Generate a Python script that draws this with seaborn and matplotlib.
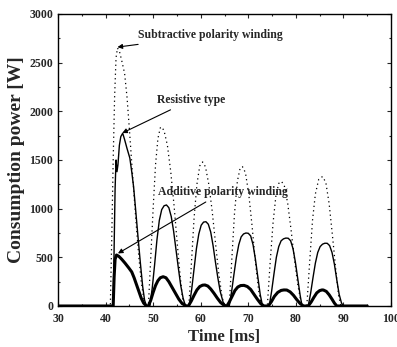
import matplotlib
matplotlib.use("Agg")
import matplotlib.pyplot as plt
from matplotlib.ticker import MultipleLocator
import seaborn as sns
import pandas as pd

# ---- data ----
sub_t = [30, 35, 40, 41.0, 41.3, 41.6, 41.9, 42.2, 42.5, 42.9, 43.4, 44.0, 44.5, 45.0, 45.5, 46.0, 46.5, 47.0, 47.5, 48.0, 48.4,
         49.0, 49.5, 50.0, 50.5, 51.0, 51.5, 51.8, 52.3, 53.0, 53.7, 54.4, 55.0, 55.6, 56.1, 56.5,
         57.5, 58.0, 58.6, 59.2, 59.8, 60.4, 61.0, 61.7, 62.4, 63.1, 63.8, 64.5, 65.0,
         66.0, 66.5, 67.1, 67.7, 68.3, 68.8, 69.4, 70.1, 70.8, 71.5, 72.2, 72.8,
         74.0, 74.6, 75.2, 75.8, 76.4, 77.0, 77.6, 78.3, 79.0, 79.7, 80.4, 81.0, 81.5,
         82.3, 82.9, 83.5, 84.1, 84.8, 85.6, 86.3, 87.0, 87.7, 88.4, 89.0, 89.5, 95]
sub_w = [0, 0, 0, 0, 700, 1500, 2150, 2550, 2650, 2620, 2520, 2390, 2150, 1820, 1470, 1130, 800, 500, 250, 80, 0,
         0, 500, 1000, 1450, 1720, 1830, 1840, 1800, 1650, 1380, 1030, 680, 350, 110, 0,
         0, 400, 900, 1250, 1440, 1480, 1430, 1250, 980, 650, 330, 90, 0,
         0, 450, 950, 1280, 1420, 1430, 1370, 1150, 820, 450, 150, 0,
         0, 450, 850, 1130, 1260, 1280, 1230, 1050, 780, 480, 220, 60, 0,
         0, 450, 880, 1150, 1300, 1330, 1270, 1050, 720, 370, 100, 0, 0]

res_t = [30, 41.6, 41.8, 42.0, 42.2, 42.4, 42.6, 42.9, 43.2, 43.6, 44.0, 44.5, 45.1, 45.5, 45.9, 46.3, 46.8, 47.3, 47.8, 48.2, 48.6,
         49.3, 49.8, 50.3, 50.8, 51.3, 51.8, 52.3, 52.8, 53.3, 53.8, 54.3, 54.8, 55.3, 55.8, 56.3, 56.8,
         57.6, 58.1, 58.6, 59.1, 59.6, 60.1, 60.6, 61.1, 61.6, 62.1, 62.6, 63.1, 63.6, 64.1, 64.7, 65.3,
         66.0, 66.5, 67.0, 67.5, 68.0, 68.5, 69.0, 69.5, 70.0, 70.5, 71.0, 71.5, 72.0, 72.5, 73.0,
         74.4, 74.9, 75.4, 75.9, 76.4, 76.9, 77.4, 77.9, 78.4, 78.9, 79.4, 79.9, 80.4, 80.9, 81.3,
         82.6, 83.1, 83.6, 84.1, 84.6, 85.1, 85.6, 86.1, 86.6, 87.1, 87.6, 88.1, 88.6, 89.1, 89.6, 90.0, 95]
res_w = [0, 0, 600, 1200, 1500, 1380, 1450, 1650, 1740, 1775, 1710, 1620, 1520, 1380, 1220, 1000, 720, 450, 200, 60, 0,
         0, 180, 420, 680, 880, 990, 1030, 1038, 1010, 920, 770, 580, 390, 210, 80, 0,
         0, 170, 380, 590, 740, 830, 862, 866, 840, 760, 620, 450, 290, 150, 40, 0,
         0, 150, 330, 500, 630, 710, 740, 750, 747, 720, 630, 480, 300, 120, 0,
         0, 150, 330, 500, 610, 670, 690, 698, 696, 670, 590, 450, 280, 110, 0,
         0, 130, 290, 440, 550, 610, 635, 645, 644, 620, 550, 430, 270, 120, 30, 0, 0]

add_t = [30, 41.6, 41.8, 42.0, 42.3, 42.8, 43.4, 44.1, 44.9, 45.5, 46.0, 46.5, 47.0, 47.5, 48.0, 48.6,
         49.0, 49.5, 50.0, 50.5, 51.0, 51.5, 52.1, 52.7, 53.3, 54.0, 54.7, 55.4, 56.1, 57.0,
         57.4, 58.0, 58.6, 59.2, 59.8, 60.4, 60.9, 61.5, 62.1, 62.8, 63.5, 64.2, 65.1,
         65.5, 66.0, 66.6, 67.2, 67.8, 68.4, 69.1, 69.8, 70.5, 71.2, 71.9, 72.6, 73.3,
         74.2, 74.8, 75.5, 76.2, 76.9, 77.5, 78.1, 78.8, 79.5, 80.2, 80.9, 81.6,
         82.6, 83.2, 83.8, 84.4, 85.0, 85.5, 85.8, 86.4, 87.0, 87.6, 88.1, 88.6, 95]
add_w = [0, 0, 300, 480, 524, 510, 480, 440, 390, 350, 290, 220, 150, 80, 30, 0,
         0, 60, 140, 210, 260, 290, 301, 290, 250, 190, 130, 70, 25, 0,
         0, 50, 110, 165, 200, 214, 216, 205, 175, 130, 80, 35, 0,
         0, 40, 100, 160, 195, 210, 212, 200, 170, 120, 70, 25, 0,
         0, 40, 100, 140, 160, 165, 164, 145, 110, 65, 25, 0,
         0, 40, 90, 135, 158, 165, 164, 150, 115, 70, 30, 0, 0]

x_ticks = [30, 40, 50, 60, 70, 80, 90, 100]
y_ticks = [0, 500, 1000, 1500, 2000, 2500, 3000]

labels = ["Subtractive polarity winding", "Resistive type", "Additive polarity winding"]

# ---- style ----
sns.set_style("ticks")
plt.rcParams["font.family"] = ["Liberation Serif", "DejaVu Serif"]
plt.rcParams["font.weight"] = "bold"

fig = plt.figure(figsize=(3.97, 3.47), dpi=100)
ax = fig.add_axes([58 / 397, 1 - 306 / 347, (391 - 58) / 397, (306 - 14) / 347])

sub_df = pd.DataFrame({"t": sub_t, "w": sub_w})
res_df = pd.DataFrame({"t": res_t, "w": res_w})
add_df = pd.DataFrame({"t": add_t, "w": add_w})

sns.lineplot(data=sub_df, x="t", y="w", ax=ax, color="black", linewidth=0.9,
             linestyle=(0, (1, 2.6)), estimator=None)
sns.lineplot(data=res_df, x="t", y="w", ax=ax, color="black", linewidth=1.0, estimator=None)
sns.lineplot(data=add_df, x="t", y="w", ax=ax, color="black", linewidth=2.2, estimator=None)

ax.set_xlim(30, 100)
ax.set_ylim(0, 3000)
ax.set_xticks(x_ticks)
ax.set_yticks(y_ticks)
ax.set_xticklabels([str(v) for v in x_ticks])
ax.set_yticklabels([str(v) for v in y_ticks])
ax.xaxis.set_minor_locator(MultipleLocator(5))
ax.yaxis.set_minor_locator(MultipleLocator(250))
ax.tick_params(which="both", direction="in", top=True, right=True, labelsize=8.5, width=0.8)
ax.tick_params(which="major", length=3)
ax.tick_params(which="minor", length=1.5)
ax.tick_params(axis="x", pad=5)
for lab in ax.get_xticklabels() + ax.get_yticklabels():
    lab.set_fontweight("bold")
for s in ax.spines.values():
    s.set_linewidth(1.0)
    s.set_color("black")

ax.set_xlabel("Time [ms]", fontsize=12, fontweight="bold", labelpad=3)
ax.set_ylabel("Consumption power [W]", fontsize=14, fontweight="bold", labelpad=3)

arrow = dict(arrowstyle="-|>", color="black", lw=0.8, mutation_scale=7, shrinkA=1, shrinkB=0)
ax.annotate(labels[0], xy=(42.5, 2660), xytext=(46.8, 2785), ha="left", va="center",
            fontsize=8.5, fontweight="bold", arrowprops=arrow)
ax.annotate(labels[1], xy=(43.5, 1777), xytext=(50.8, 2117), ha="left", va="center",
            fontsize=8.5, fontweight="bold", arrowprops=arrow)
ax.annotate(labels[2], xy=(42.6, 540), xytext=(51.0, 1171), ha="left", va="center",
            fontsize=8.5, fontweight="bold", arrowprops=arrow)

fig.savefig("out.png", dpi=100)
